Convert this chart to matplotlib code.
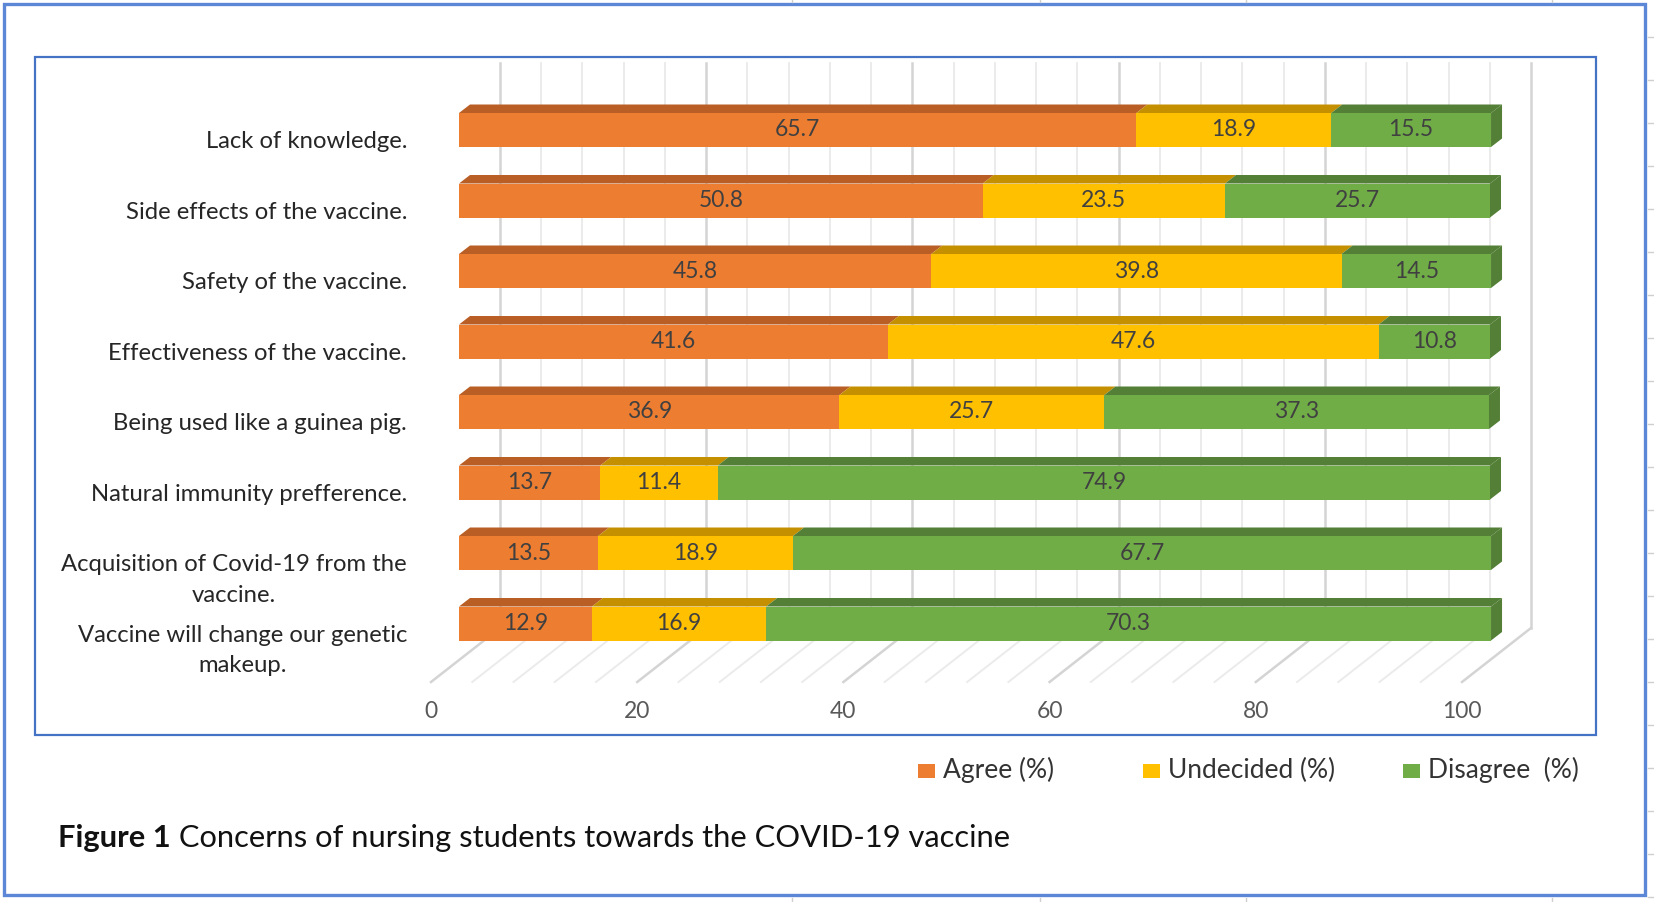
## Concerns chart, Excel-like 3D stacked bars
#%%
import matplotlib.pyplot as plt
from matplotlib.patches import Rectangle, Polygon

categories = ["Lack of knowledge.",
              "Side effects of the vaccine.",
              "Safety of the vaccine.",
              "Effectiveness of the vaccine.",
              "Being used like a guinea pig.",
              "Natural immunity prefference.",
              "Acquisition of Covid-19 from the\nvaccine.",
              "Vaccine will change our genetic\nmakeup."]
agree = [65.7, 50.8, 45.8, 41.6, 36.9, 13.7, 13.5, 12.9]
undecided = [18.9, 23.5, 39.8, 47.6, 25.7, 11.4, 18.9, 16.9]
disagree = [15.5, 25.7, 14.5, 10.8, 37.3, 74.9, 67.7, 70.3]
series_names = ["Agree (%)", "Undecided (%)", "Disagree  (%)"]
xticks = [0, 20, 40, 60, 80, 100]

front_cols = ["#ED7D31", "#FFC000", "#70AD47"]
top_cols = ["#B95E25", "#C49000", "#537F36"]

plt.rcParams['font.family'] = ['Lato', 'DejaVu Sans']

W, H = 1654, 902
PX = 10.31      # pixels per percent
X0 = 459        # pixel of 0 on bar front
ROW = 70.5      # pixels per category
Y0 = 130        # pixel of first category

fig = plt.figure(figsize=(W / 100, H / 100), dpi=100)
ax = fig.add_axes([0, 0, 1, 1])
ax.set_xlim(-X0 / PX, (W - X0) / PX)
ax.set_ylim((H - Y0) / ROW, -Y0 / ROW)
ax.axis('off')

# 3d geometry (in data units)
ddx, ddy = 11 / PX, -8.5 / ROW
bar_h = 34 / ROW
floor_front_dx, floor_front_y = -28 / PX, (682 - Y0) / ROW
floor_back_dx, floor_back_y = 41 / PX, (628 - Y0) / ROW
wall_top = (63 - Y0) / ROW

# back wall + floor gridlines
for v in range(0, 101, 4):
    major = v % 20 == 0
    c = "#d4d4d4" if major else "#ebebeb"
    lw = 1.8 if major else 1.4
    ax.plot([v + floor_back_dx] * 2, [wall_top, floor_back_y], color=c, lw=lw, zorder=1)
    ax.plot([v + floor_back_dx, v + floor_front_dx], [floor_back_y, floor_front_y],
            color=c, lw=lw, zorder=1)

# bars
for i in range(len(categories)):
    vals = [agree[i], undecided[i], disagree[i]]
    left = 0
    top = i - bar_h / 2
    bot = i + bar_h / 2
    for k, v in enumerate(vals):
        ax.add_patch(Rectangle((left, top), v, bar_h, fc=front_cols[k], ec='none', zorder=3))
        ax.add_patch(Polygon([(left, top), (left + v, top), (left + v + ddx, top + ddy),
                              (left + ddx, top + ddy)], closed=True,
                             fc=top_cols[k], ec='none', zorder=3))
        ax.text(left + v / 2, i, f"{v}", ha='center', va='center',
                color='#404040', fontsize=16.5, zorder=5)
        left += v
    ax.add_patch(Polygon([(left, top), (left + ddx, top + ddy), (left + ddx, bot + ddy),
                          (left, bot)], closed=True, fc=top_cols[2], ec='none', zorder=3))
    ax.text((407 - X0) / PX, i + 0.02, categories[i], ha='right', va='top',
            multialignment='center', linespacing=1.55, color='#262626', fontsize=17.2)

for v in xticks:
    ax.text(v + floor_front_dx, (711 - Y0) / ROW, str(v), ha='center', va='center',
            color='#595959', fontsize=16.5)

# legend
leg_sq = [918, 1143, 1403]
for k, name in enumerate(series_names):
    fig.add_artist(Rectangle((leg_sq[k] / W, 1 - 778 / H), 17 / W, 14 / H,
                             transform=fig.transFigure, fc=front_cols[k], ec='none'))
    fig.text((leg_sq[k] + 25) / W, 1 - 770 / H, name, ha='left', va='center',
             color='#333333', fontsize=19)

# caption
t1 = fig.text(58 / W, 1 - 838 / H, "Figure 1", ha='left', va='center',
              fontsize=22.2, fontweight='bold', color='#111111')
ax.annotate(" Concerns of nursing students towards the COVID-19 vaccine", xy=(1, 0),
            xycoords=t1, ha='left', va='bottom', fontsize=22.2, color='#111111')

# frames
def frame(x1, y1, x2, y2, col, lw):
    fig.add_artist(Rectangle((x1 / W, 1 - y2 / H), (x2 - x1) / W, (y2 - y1) / H,
                             transform=fig.transFigure, fill=False, ec=col, lw=lw))

frame(35, 57, 1596, 735, "#4472C4", 1.6)
frame(4, 4, 1645, 895, "#5B87D6", 2.4)

# excel sheet lines outside the picture
for gx in [792, 1040, 1246, 1552]:
    fig.add_artist(plt.Line2D([gx / W] * 2, [0, 1 - 898 / H], transform=fig.transFigure,
                              color="#cfcfcf", lw=1))
    fig.add_artist(plt.Line2D([gx / W] * 2, [1, 1 - 2 / H], transform=fig.transFigure,
                              color="#cfcfcf", lw=1))
for gy in range(37, 900, 43):
    fig.add_artist(plt.Line2D([1648 / W, 1], [1 - gy / H] * 2, transform=fig.transFigure,
                              color="#cfcfcf", lw=1))

fig.savefig("out.png", dpi=100, facecolor='white')
